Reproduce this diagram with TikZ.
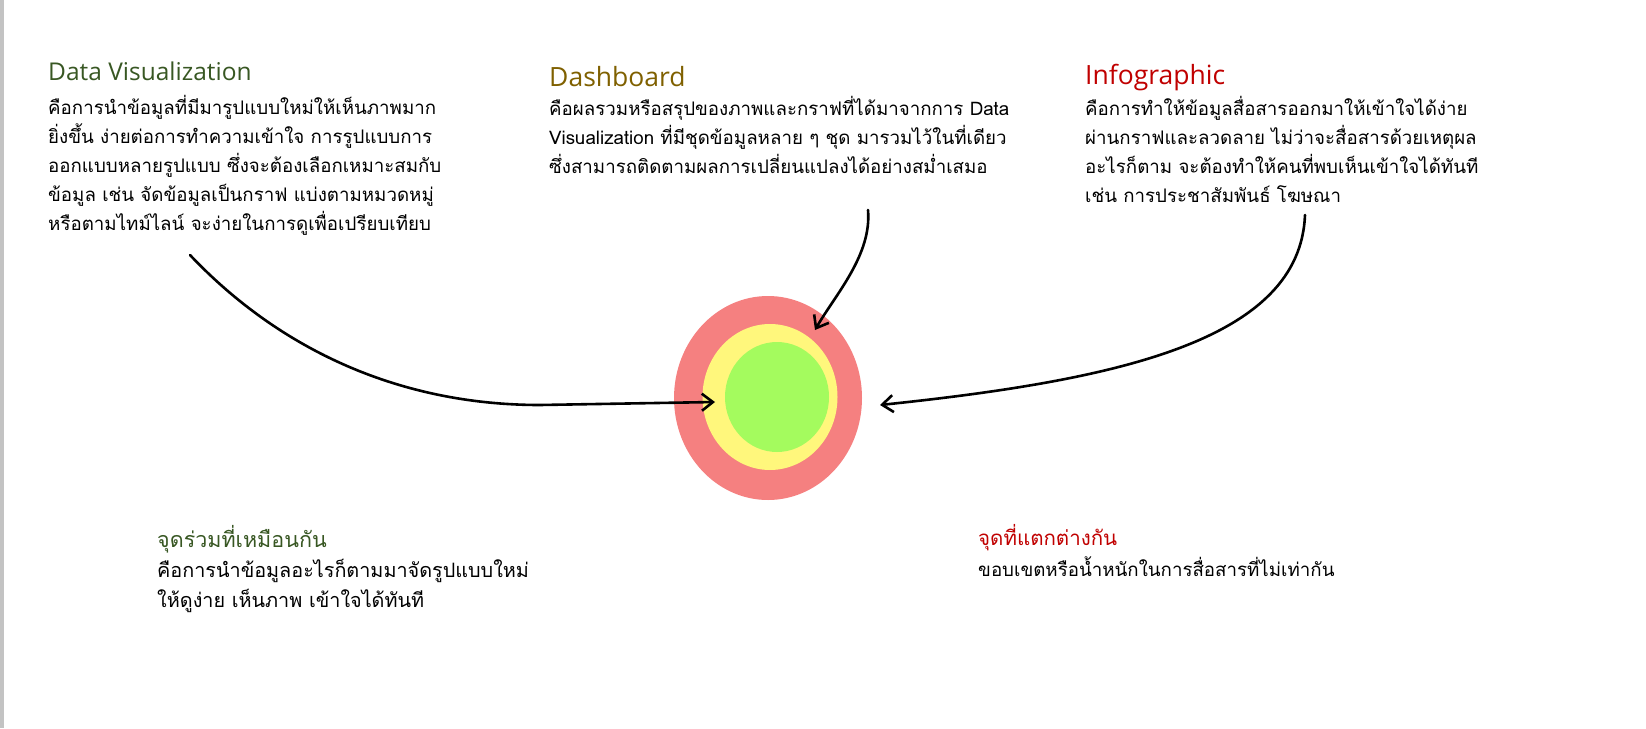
\documentclass[tikz,border=0pt]{standalone}
\usepackage{fontspec}
\setmainfont[Script=Thai]{Loma}
\newfontfamily\headfont{Open Sans}
\usetikzlibrary{arrows.meta,shapes.geometric}
\definecolor{dvgreen}{HTML}{385723}
\definecolor{dashgold}{HTML}{7F6000}
\definecolor{infored}{HTML}{C00000}
\definecolor{ringred}{HTML}{F58080}
\definecolor{ringyellow}{HTML}{FFF77C}
\definecolor{ringgreen}{HTML}{A4FB5E}
\definecolor{sidebar}{HTML}{C3C3C3}
\tikzset{
  heading/.style={anchor=base west,inner sep=0pt,font=\headfont\fontsize{26.5}{30}\selectfont},
  thaihead/.style={anchor=base west,inner sep=0pt,font=\fontsize{21.5}{24}\selectfont},
  body/.style={anchor=north west,inner sep=0pt,align=left,font=\fontsize{18.7}{29}\selectfont},
  ring/.style={ellipse,inner sep=0pt},
  handarrow/.style={line width=2.6pt,line cap=round,line join=round,-{Straight Barb[length=11pt,width=17pt]}}
}
\def\harrow{\draw[handarrow]}

\begin{document}
\begin{tikzpicture}[x=1pt,y=-1pt]
                \useasboundingbox (0,0) rectangle (1646,728);
                \fill[sidebar] (0,0) rectangle (4,728);
                \node[ring,fill=ringred,minimum width=188pt,minimum height=204pt] (outerring) at (768,398) {};
                \node[ring,fill=ringyellow,minimum width=135pt,minimum height=146pt] (midring) at (770,397) {};
                \node[ring,fill=ringgreen,minimum width=104pt,minimum height=110pt] (innerring) at (777,397) {};
                \node[heading,dvgreen,font=\headfont\fontsize{24.5}{28}\selectfont] (dvtitle) at (48,80) {Data Visualization};
                \node[body] (dvbody) at (48,95) {คือการนำข้อมูลที่มีมารูปแบบใหม่ให้เห็นภาพมาก\\
                    ยิ่งขึ้น ง่ายต่อการทำความเข้าใจ การรูปแบบการ\\
                    ออกแบบหลายรูปแบบ ซึ่งจะต้องเลือกเหมาะสมกับ\\
                    ข้อมูล เช่น จัดข้อมูลเป็นกราฟ แบ่งตามหมวดหมู่\\
                    หรือตามไทม์ไลน์ จะง่ายในการดูเพื่อเปรียบเทียบ};
                \node[heading,dashgold] (dashtitle) at (549,86) {Dashboard};
                \node[body] (dashbody) at (549,96) {คือผลรวมหรือสรุปของภาพและกราฟที่ได้มาจากการ Data\\
                    Visualization ที่มีชุดข้อมูลหลาย ๆ ชุด มารวมไว้ในที่เดียว\\
                    ซึ่งสามารถติดตามผลการเปลี่ยนแปลงได้อย่างสม่ำเสมอ};
                \node[heading,infored] (infotitle) at (1085,84) {Infographic};
                \node[body] (infobody) at (1085,96) {คือการทำให้ข้อมูลสื่อสารออกมาให้เข้าใจได้ง่าย\\
                    ผ่านกราฟและลวดลาย ไม่ว่าจะสื่อสารด้วยเหตุผล\\
                    อะไรก็ตาม จะต้องทำให้คนที่พบเห็นเข้าใจได้ทันที\\
                    เช่น การประชาสัมพันธ์ โฆษณา};
                \node[thaihead,dvgreen] (sametitle) at (157,547) {จุดร่วมที่เหมือนกัน};
                \node[body,font=\fontsize{19.8}{30}\selectfont] (samebody) at (157,559) {คือการนำข้อมูลอะไรก็ตามมาจัดรูปแบบใหม่\\
                    ให้ดูง่าย เห็นภาพ เข้าใจได้ทันที};
                \node[thaihead,infored,font=\fontsize{20.5}{24}\selectfont] (difftitle) at (978,545) {จุดที่แตกต่างกัน};
                \node[body] (diffbody) at (978,556) {ขอบเขตหรือน้ำหนักในการสื่อสารที่ไม่เท่ากัน};
                \coordinate (dvtail) at (190,255);
                \coordinate (dvtip) at (715,402);
                \coordinate (dashtail) at (868,210);
                \coordinate (dashtip) at (815,330);
                \coordinate (infotail) at (1305,215);
                \coordinate (infotip) at (880,405);
                \harrow (dvtail) .. controls (280,350) and (400,405) .. (540,405) -- (dvtip);
                \harrow (dashtail) .. controls (872,255) and (835,295) .. (dashtip);
                \harrow (infotail) .. controls (1300,340) and (1120,380) .. (infotip);
            \end{tikzpicture}
\end{document}
